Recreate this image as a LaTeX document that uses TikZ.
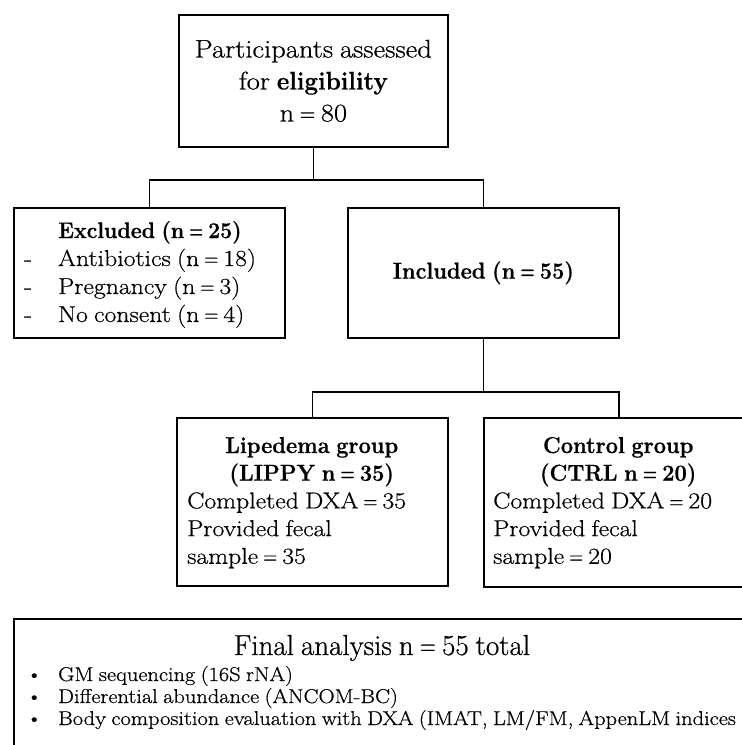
\documentclass[tikz,border=0pt]{standalone}
\usepackage{fontspec}
\usepackage{graphicx}
\setmainfont{Latin Modern Roman}[WordSpace=0.8,
  UprightFeatures={FakeStretch=1.12, FakeBold=0.6},
  BoldFeatures={FakeStretch=0.95, FakeBold=0.6}]
\newfontfamily\titlefont{Latin Modern Roman}[WordSpace=0.8, FakeBold=0.6]
\newcommand{\fsz}[2]{\fontsize{#1}{#2}\selectfont}
\newcommand{\narreq}{\hspace{0.22em}\scalebox{0.75}[1]{=}\hspace{0.22em}}
\begin{document}
\begin{tikzpicture}[x=1pt,y=-1pt,
  box/.style={draw=black, line width=1.7pt, rectangle, inner sep=0pt, anchor=north west},
  conn/.style={draw=black, line width=1.7pt},
  txt/.style={inner sep=0pt, text=black}]
\useasboundingbox (0,0) rectangle (742,745);
\fill[white] (0,0) rectangle (742,745);
\clip (0,0) rectangle (742,745);

\node[box, minimum width=269pt, minimum height=132pt, align=center, font=\fsz{25.5}{32}] (top) at (178,14)
  {Participants assessed\\for \textbf{eligibility}\\n\narreq 80};

\node[box, minimum width=271pt, minimum height=130pt] (excl) at (13,207) {};
\node[txt, anchor=base west, font=\fsz{23}{28}] (excltxt) at (24,238)
  {\begin{tabular}[t]{@{}p{34pt}@{}l@{}}
   & {\fsz{22.5}{28}\textbf{Excluded (n\narreq 25)}}\\
  - & Antibiotics (n\narreq 18)\\
  - & Pregnancy (n\narreq 3)\\
  - & No consent (n\narreq 4)
  \end{tabular}};

\node[box, minimum width=271pt, minimum height=130pt, font=\fsz{23}{28}] (incl) at (347,207)
  {\textbf{Included (n\narreq 55)}};

\node[box, minimum width=271pt, minimum height=168pt] (lip) at (176,417) {};
\node[txt, anchor=base west, font=\fsz{23}{27.7}] (liptxt) at (187,453)
  {\begin{tabular}[t]{@{}l@{}}
  \makebox[249pt]{\textbf{Lipedema group}}\\
  \makebox[249pt]{\textbf{(LIPPY n\narreq 35)}}\\
  Completed DXA\narreq 35\\
  Provided fecal\\
  sample\narreq 35
  \end{tabular}};

\node[box, minimum width=270pt, minimum height=169pt] (ctrl) at (483,417) {};
\node[txt, anchor=base west, font=\fsz{23}{27.7}] (ctrltxt) at (493,453)
  {\begin{tabular}[t]{@{}l@{}}
  \makebox[250pt]{\textbf{Control group}}\\
  \makebox[250pt]{\textbf{(CTRL n\narreq 20)}}\\
  Completed DXA\narreq 20\\
  Provided fecal\\
  sample\narreq 20
  \end{tabular}};

\node[box, minimum width=780pt, minimum height=160pt] (fin) at (13,618) {};
\node[txt, anchor=base, font=\titlefont\fsz{29}{35}] (fintitle) at (382,655) {Final analysis n\narreq 55 total};
\node[txt, anchor=base west, font=\fsz{20}{22}] (finlist) at (26,681)
  {\begin{tabular}[t]{@{}p{32pt}@{}l@{}}
  \textbullet & GM sequencing (16S rNA)\\
  \textbullet & Differential abundance (ANCOM-BC)\\
  \textbullet & Body composition evaluation with DXA (IMAT, LM/FM, AppenLM indices
  \end{tabular}};

\coordinate (j1) at (top.south |- 0,180);
\draw[conn] (top.south) -- (j1);
\draw[conn] (excl.north) |- (j1) -| (incl.north);
\coordinate (j2) at (incl.south |- 0,392);
\draw[conn] (incl.south) -- (j2);
\draw[conn] (lip.north) |- (j2) -| (ctrl.north);
\end{tikzpicture}
\end{document}
